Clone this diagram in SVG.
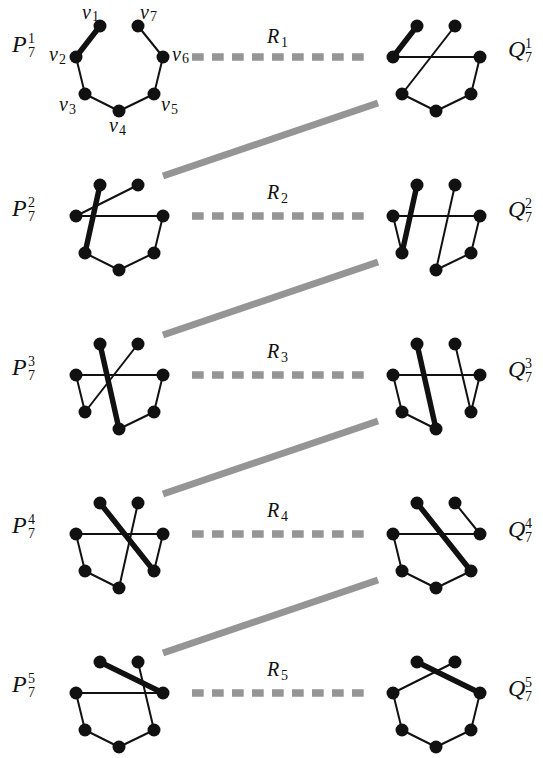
<svg xmlns="http://www.w3.org/2000/svg" width="543" height="758" viewBox="0 0 543 758">
<style>
.e{stroke:#111;stroke-width:2;stroke-linecap:round}
.t{stroke:#111;stroke-width:5.5;stroke-linecap:round}
.n{fill:#111}
.lb{font-family:"Liberation Serif","Times New Roman",serif;font-style:italic;fill:#111}
.big{font-size:24px}
.v{font-size:20px}
.sm{font-family:"Liberation Serif","Times New Roman",serif;fill:#111;font-size:14px}
.dash{stroke:#959595;stroke-width:7.5;stroke-dasharray:11.7 8.3;fill:none}
.link{stroke:#959595;stroke-width:7;fill:none}
</style>
<defs>
<g id="nodes">
<circle class="n" cx="100" cy="26" r="6.5"/>
<circle class="n" cx="76" cy="57" r="6.5"/>
<circle class="n" cx="85" cy="94" r="6.5"/>
<circle class="n" cx="119" cy="111" r="6.5"/>
<circle class="n" cx="154" cy="94" r="6.5"/>
<circle class="n" cx="163" cy="57" r="6.5"/>
<circle class="n" cx="138" cy="26" r="6.5"/>
</g>
</defs>
<g id="connectors">
<line class="dash" x1="192" y1="57" x2="364" y2="57"/>
<line class="dash" x1="192" y1="216" x2="364" y2="216"/>
<line class="dash" x1="192" y1="375" x2="364" y2="375"/>
<line class="dash" x1="192" y1="534" x2="364" y2="534"/>
<line class="dash" x1="192" y1="693" x2="364" y2="693"/>
<line class="link" x1="163" y1="176" x2="378" y2="103"/>
<line class="link" x1="163" y1="335" x2="378" y2="262"/>
<line class="link" x1="163" y1="494" x2="378" y2="421"/>
<line class="link" x1="163" y1="653" x2="378" y2="580"/>
</g>
<g id="P1">
<line class="t" x1="100" y1="26" x2="76" y2="57"/>
<line class="e" x1="76" y1="57" x2="85" y2="94"/>
<line class="e" x1="85" y1="94" x2="119" y2="111"/>
<line class="e" x1="119" y1="111" x2="154" y2="94"/>
<line class="e" x1="154" y1="94" x2="163" y2="57"/>
<line class="e" x1="163" y1="57" x2="138" y2="26"/>
<use href="#nodes"/>
</g>
<g id="Q1" transform="translate(317,0)">
<line class="t" x1="100" y1="26" x2="76" y2="57"/>
<line class="e" x1="76" y1="57" x2="163" y2="57"/>
<line class="e" x1="138" y1="26" x2="85" y2="94"/>
<line class="e" x1="85" y1="94" x2="119" y2="111"/>
<line class="e" x1="119" y1="111" x2="154" y2="94"/>
<line class="e" x1="154" y1="94" x2="163" y2="57"/>
<use href="#nodes"/>
</g>
<g id="P2" transform="translate(0,159)">
<line class="t" x1="100" y1="26" x2="85" y2="94"/>
<line class="e" x1="138" y1="26" x2="76" y2="57"/>
<line class="e" x1="76" y1="57" x2="163" y2="57"/>
<line class="e" x1="85" y1="94" x2="119" y2="111"/>
<line class="e" x1="119" y1="111" x2="154" y2="94"/>
<line class="e" x1="154" y1="94" x2="163" y2="57"/>
<use href="#nodes"/>
</g>
<g id="Q2" transform="translate(317,159)">
<line class="t" x1="100" y1="26" x2="85" y2="94"/>
<line class="e" x1="76" y1="57" x2="85" y2="94"/>
<line class="e" x1="76" y1="57" x2="163" y2="57"/>
<line class="e" x1="138" y1="26" x2="119" y2="111"/>
<line class="e" x1="119" y1="111" x2="154" y2="94"/>
<line class="e" x1="154" y1="94" x2="163" y2="57"/>
<use href="#nodes"/>
</g>
<g id="P3" transform="translate(0,318)">
<line class="t" x1="100" y1="26" x2="119" y2="111"/>
<line class="e" x1="138" y1="26" x2="85" y2="94"/>
<line class="e" x1="76" y1="57" x2="163" y2="57"/>
<line class="e" x1="76" y1="57" x2="85" y2="94"/>
<line class="e" x1="119" y1="111" x2="154" y2="94"/>
<line class="e" x1="154" y1="94" x2="163" y2="57"/>
<use href="#nodes"/>
</g>
<g id="Q3" transform="translate(317,318)">
<line class="t" x1="100" y1="26" x2="119" y2="111"/>
<line class="e" x1="138" y1="26" x2="154" y2="94"/>
<line class="e" x1="76" y1="57" x2="163" y2="57"/>
<line class="e" x1="76" y1="57" x2="85" y2="94"/>
<line class="e" x1="85" y1="94" x2="119" y2="111"/>
<line class="e" x1="154" y1="94" x2="163" y2="57"/>
<use href="#nodes"/>
</g>
<g id="P4" transform="translate(0,477)">
<line class="t" x1="100" y1="26" x2="154" y2="94"/>
<line class="e" x1="138" y1="26" x2="119" y2="111"/>
<line class="e" x1="76" y1="57" x2="163" y2="57"/>
<line class="e" x1="76" y1="57" x2="85" y2="94"/>
<line class="e" x1="85" y1="94" x2="119" y2="111"/>
<line class="e" x1="154" y1="94" x2="163" y2="57"/>
<use href="#nodes"/>
</g>
<g id="Q4" transform="translate(317,477)">
<line class="t" x1="100" y1="26" x2="154" y2="94"/>
<line class="e" x1="138" y1="26" x2="163" y2="57"/>
<line class="e" x1="76" y1="57" x2="163" y2="57"/>
<line class="e" x1="76" y1="57" x2="85" y2="94"/>
<line class="e" x1="85" y1="94" x2="119" y2="111"/>
<line class="e" x1="119" y1="111" x2="154" y2="94"/>
<use href="#nodes"/>
</g>
<g id="P5" transform="translate(0,636)">
<line class="t" x1="100" y1="26" x2="163" y2="57"/>
<line class="e" x1="138" y1="26" x2="154" y2="94"/>
<line class="e" x1="76" y1="57" x2="163" y2="57"/>
<line class="e" x1="76" y1="57" x2="85" y2="94"/>
<line class="e" x1="85" y1="94" x2="119" y2="111"/>
<line class="e" x1="119" y1="111" x2="154" y2="94"/>
<use href="#nodes"/>
</g>
<g id="Q5" transform="translate(317,636)">
<line class="t" x1="100" y1="26" x2="163" y2="57"/>
<line class="e" x1="138" y1="26" x2="76" y2="57"/>
<line class="e" x1="76" y1="57" x2="85" y2="94"/>
<line class="e" x1="85" y1="94" x2="119" y2="111"/>
<line class="e" x1="119" y1="111" x2="154" y2="94"/>
<line class="e" x1="154" y1="94" x2="163" y2="57"/>
<use href="#nodes"/>
</g>
<g id="vertex-labels">
<text class="lb v" x="82" y="18.5">v</text><text class="sm" x="92" y="21">1</text>
<text class="lb v" x="140" y="18.5">v</text><text class="sm" x="150" y="21">7</text>
<text class="lb v" x="49" y="61">v</text><text class="sm" x="59" y="64">2</text>
<text class="lb v" x="172" y="61">v</text><text class="sm" x="182" y="63">6</text>
<text class="lb v" x="59" y="111">v</text><text class="sm" x="69" y="114">3</text>
<text class="lb v" x="161" y="111">v</text><text class="sm" x="171" y="114">5</text>
<text class="lb v" x="109" y="132">v</text><text class="sm" x="119" y="135">4</text>
</g>
<g id="labels">
<text class="lb big" x="12" y="52">P</text><text class="sm" x="28" y="43">1</text><text class="sm" x="28" y="57">7</text>
<text class="lb big" x="12" y="216">P</text><text class="sm" x="28" y="207">2</text><text class="sm" x="28" y="221">7</text>
<text class="lb big" x="12" y="375">P</text><text class="sm" x="28" y="366">3</text><text class="sm" x="28" y="380">7</text>
<text class="lb big" x="12" y="533">P</text><text class="sm" x="28" y="524">4</text><text class="sm" x="28" y="538">7</text>
<text class="lb big" x="12" y="692">P</text><text class="sm" x="28" y="683">5</text><text class="sm" x="28" y="697">7</text>
<text class="lb big" x="508" y="57">Q</text><text class="sm" x="525" y="48">1</text><text class="sm" x="525" y="62">7</text>
<text class="lb big" x="508" y="217">Q</text><text class="sm" x="525" y="208">2</text><text class="sm" x="525" y="222">7</text>
<text class="lb big" x="508" y="377">Q</text><text class="sm" x="525" y="368">3</text><text class="sm" x="525" y="382">7</text>
<text class="lb big" x="508" y="537">Q</text><text class="sm" x="525" y="528">4</text><text class="sm" x="525" y="542">7</text>
<text class="lb big" x="508" y="696">Q</text><text class="sm" x="525" y="687">5</text><text class="sm" x="525" y="701">7</text>
<text class="lb v" x="267" y="43">R</text><text class="sm" x="281" y="47">1</text>
<text class="lb v" x="267" y="199">R</text><text class="sm" x="281" y="203">2</text>
<text class="lb v" x="267" y="358">R</text><text class="sm" x="281" y="362">3</text>
<text class="lb v" x="267" y="517">R</text><text class="sm" x="281" y="521">4</text>
<text class="lb v" x="267" y="676">R</text><text class="sm" x="281" y="680">5</text>
</g>
</svg>
